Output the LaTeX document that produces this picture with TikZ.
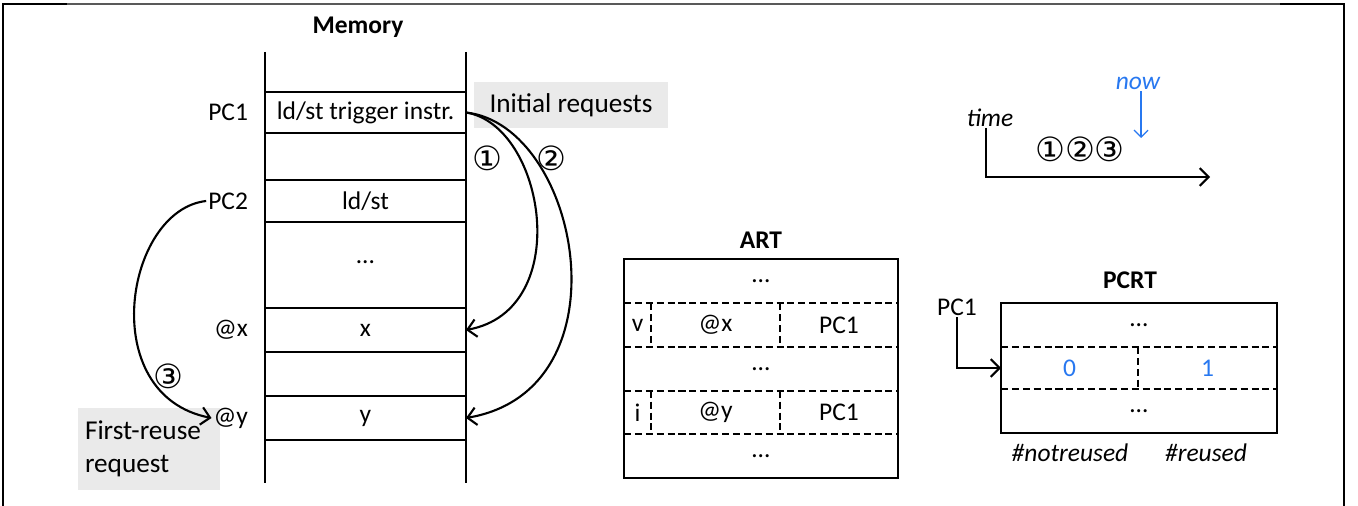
\documentclass[tikz,border=0pt]{standalone}
\usepackage{fontspec}
\setmainfont{Carlito}
\newfontfamily\circfont{DejaVu Sans}
\usepackage{tikz}
\usetikzlibrary{positioning, arrows.meta, calc}
\definecolor{nowblue}{RGB}{40,120,240}
\definecolor{notegray}{RGB}{234,234,234}

\begin{document}
\begin{tikzpicture}[x=0.02cm, y=-0.02cm]
		% Define styles
		\tikzset{
			txt/.style={font=\fontsize{14.5}{17}\selectfont, inner sep=1pt},
			head/.style={font=\fontsize{14.5}{17}\selectfont\bfseries, inner sep=1pt},
			cell/.style={txt, draw, line width=1.25pt, minimum width=4.02cm, inner sep=0pt, outer sep=0pt},
			dcell/.style={txt, inner sep=0pt, outer sep=0pt, minimum height=0.87cm},
			tbl/.style={draw, line width=1.25pt, inner sep=0pt, outer sep=0pt},
			dline/.style={draw, line width=1.25pt, dash pattern=on 4pt off 2.2pt},
			notebox/.style={font=\fontsize{15.5}{19}\selectfont, fill=notegray, inner sep=4pt},
			circ/.style={font=\circfont\fontsize{19}{21}\selectfont, inner sep=0pt},
			line/.style={draw, line width=1.2pt, -{Straight Barb[length=5pt, width=10pt]}},
			frame/.style={line width=1.3pt}
		}
		\useasboundingbox (0,0) rectangle (1358,506);
		
		% Frame
		\draw[frame] (3,506) -- (3,4) -- (67,4);
		\draw[frame, black!65] (67,4) -- (1280,4);
		\draw[frame] (1280,4) -- (1344,4) -- (1344,506);
		
		% Memory
		\node[head] (memtitle) at (358,27) {Memory};
		\coordinate (ml0) at (265,52);
		\coordinate (ml1) at (265,483);
		\coordinate (mr0) at (466,52);
		\coordinate (mr1) at (466,483);
		\draw[line width=1.25pt] (ml0) -- (ml1) (mr0) -- (mr1);
		
		\node[cell, minimum height=0.82cm] (c1) at (365.5,112.5) {ld/st trigger instr.};
		\node[cell, minimum height=0.84cm] (c2) at (365.5,201) {ld/st};
		\node[txt] (cdots) at (365.5,262) {…};
		\node[cell, minimum height=0.88cm] (cx) at (365.5,330) {x};
		\node[cell, minimum height=0.88cm] (cy) at (365.5,418) {y};
		
		\node[notebox, minimum width=3.88cm, minimum height=0.92cm] (initreq) at (571,105) {Initial requests};
		\node[notebox, minimum width=2.84cm, minimum height=1.64cm, text width=2.56cm, align=left] (firstreq) at (149,449) {First-reuse\\request};
		
		\node[txt, left=0.3cm of c1] (pc1) {PC1};
		\node[txt, left=0.3cm of c2] (pc2) {PC2};
		\node[txt, left=0.3cm of cx] (atx) {@x};
		\node[txt, left=0.3cm of cy] (aty) {@y};
		
		\node[circ] (n1) at (487,158) {①};
		\node[circ] (n2) at (551,158) {②};
		\node[circ] (n3) at (168,376) {③};
		
		% Arrows
		\draw[line] (c1.east) .. controls (545,125) and (575,310) .. (cx.east);
		\draw[line] (c1.east) .. controls (580,125) and (630,390) .. (cy.east);
		\draw[line] (pc2.west) .. controls (125,210) and (95,395) .. (aty.west);
		
		% ART
		\node[head] (arttitle) at (761,240) {ART};
		\node[tbl, minimum width=5.48cm, minimum height=4.38cm] (art) at (761,368.5) {};
		\node[txt] (ad1) at (761,281) {…};
		\node[dcell, minimum width=0.54cm] (av) at (637.5,325) {v};
		\node[dcell, right=0pt of av, minimum width=2.58cm] (ax) {@x};
		\node[dcell, right=0pt of ax, minimum width=2.36cm] (apx) {PC1};
		\node[txt] (ad2) at (761,369) {…};
		\node[dcell, minimum width=0.54cm] (ai) at (637.5,412.5) {i};
		\node[dcell, right=0pt of ai, minimum width=2.58cm] (ay) {@y};
		\node[dcell, right=0pt of ay, minimum width=2.36cm] (apy) {PC1};
		\node[txt] (ad3) at (761,456) {…};
		
		\draw[dline] (av.north west) -- (apx.north east) (av.south west) -- (apx.south east);
		\draw[dline] (av.north east) -- (av.south east) (ax.north east) -- (ax.south east);
		\draw[dline] (ai.north west) -- (apy.north east) (ai.south west) -- (apy.south east);
		\draw[dline] (ai.north east) -- (ai.south east) (ay.north east) -- (ay.south east);
		
		% PCRT
		\node[head] (pcrttitle) at (1130,280) {PCRT};
		\node[tbl, minimum width=5.52cm, minimum height=2.6cm] (pcrt) at (1139,368) {};
		\node[txt] (pd1) at (1139,325) {…};
		\node[dcell, minimum width=2.74cm, minimum height=0.84cm, text=nowblue] (z0) at (1069.5,368) {0};
		\node[dcell, right=0pt of z0, minimum width=2.78cm, minimum height=0.84cm, text=nowblue] (z1) {1};
		\node[txt] (pd2) at (1139,411) {…};
		\draw[dline] (z0.north west) -- (z1.north east) (z0.south west) -- (z1.south east);
		\draw[dline] (z0.north east) -- (z0.south east);
		
		\node[txt, font=\fontsize{14.5}{17}\selectfont\itshape] (notre) at (1070,453) {\#notreused};
		\node[txt, font=\fontsize{14.5}{17}\selectfont\itshape] (re) at (1206,453) {\#reused};
		
		\node[txt] (pcl) at (957,307) {PC1};
		\draw[line] (pcl.south) |- (z0.west);
		
		% Time line
		\node[txt, font=\fontsize{14.5}{17}\selectfont\itshape] (time) at (990,118) {time};
		\coordinate (t0) at (986,128);
		\coordinate (tend) at (1210,177);
		\draw[line] (t0) |- (tend);
		\node[circ] (seq) at (1080,149) {①②③};
		
		\node[txt, font=\fontsize{14.5}{17}\selectfont\itshape, text=nowblue] (now) at (1138,83) {now};
		\coordinate (nowtip) at (1141,138);
		\draw[nowblue, line width=0.7pt, -{Straight Barb[length=4pt, width=8pt]}] (now.south -| nowtip) -- (nowtip);
	\end{tikzpicture}
\end{document}
